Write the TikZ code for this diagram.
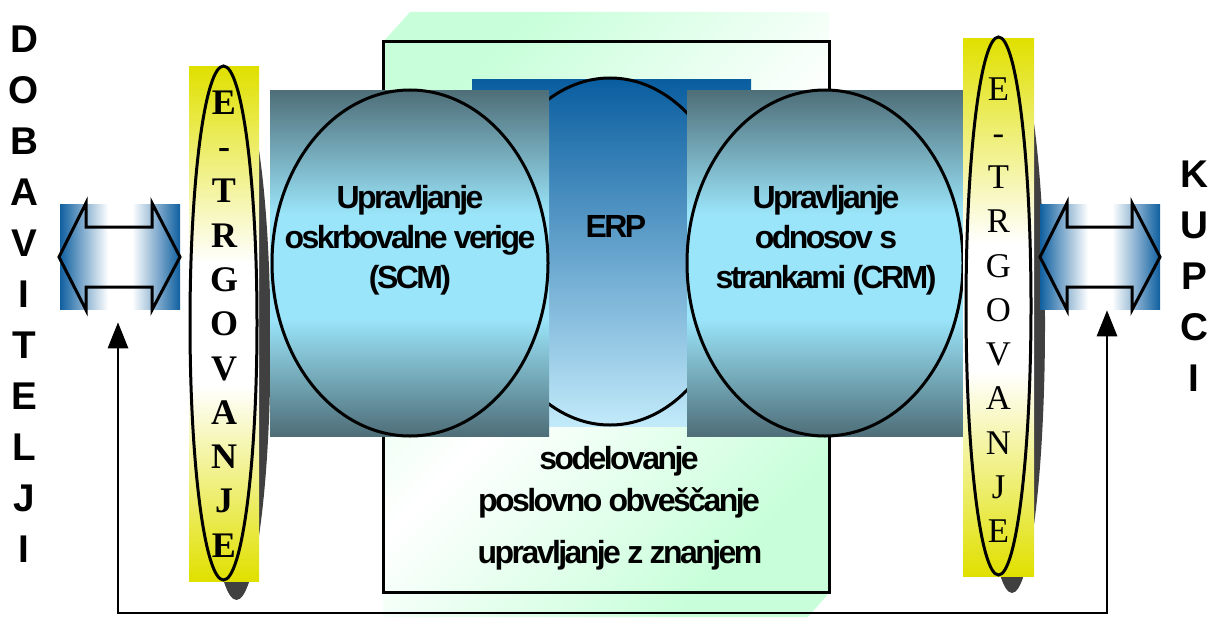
\documentclass[tikz,border=0pt]{standalone}
\usepackage{fontspec}
\setmainfont{Liberation Serif}
\newfontfamily\arialf{Liberation Sans}
\newfontfamily\tightf[LetterSpace=-8]{Liberation Sans}
\usetikzlibrary{arrows.meta}
\definecolor{mint}{RGB}{200,255,218}
\definecolor{slate}{RGB}{78,110,120}
\definecolor{cyanl}{RGB}{155,229,250}
\definecolor{erptop}{RGB}{10,94,160}
\definecolor{erpbot}{RGB}{194,234,250}
\definecolor{yel}{RGB}{224,224,0}
\definecolor{arrblue}{RGB}{16,96,160}
\definecolor{shad}{RGB}{64,64,64}
\pgfdeclareverticalshading{slateshade}{100bp}{color(0bp)=(slate); color(25bp)=(slate); color(42bp)=(cyanl); color(57bp)=(cyanl); color(75bp)=(slate); color(100bp)=(slate)}
\pgfdeclareverticalshading{yelshade}{100bp}{color(0bp)=(yel); color(25bp)=(yel); color(44bp)=(white); color(56bp)=(white); color(75bp)=(yel); color(100bp)=(yel)}
\pgfdeclarehorizontalshading{arrshade}{100bp}{color(0bp)=(arrblue); color(25bp)=(arrblue); color(45bp)=(white); color(55bp)=(white); color(75bp)=(arrblue); color(100bp)=(arrblue)}
\begin{document}
\begin{tikzpicture}[x=0.75pt,y=-0.75pt,
  outline/.style={draw=black,line width=2.25pt},
  arrbox/.style={minimum width=120*0.75pt,minimum height=105*0.75pt,inner sep=0pt,shading=arrshade},
  slatefill/.style={shading=slateshade},
  yelfill/.style={shading=yelshade},
  ctext/.style={font=\tightf\bfseries\fontsize{24}{30}\selectfont,inner sep=0pt,align=center},
  sidetext/.style={font=\arialf\bfseries\fontsize{29}{38.25}\selectfont,inner sep=0pt,align=center},
  ettext/.style={inner sep=0pt,align=center},
  fb/.style={line width=2.2pt,{Triangle[width=20*0.75pt,length=26*0.75pt]}-{Triangle[width=20*0.75pt,length=26*0.75pt]}}]
\useasboundingbox (0,0) rectangle (1209,617);
% background green box
\shade[top color=mint,bottom color=mint,middle color=white,shading angle=45]
  (383,42) -- (410,12) -- (829,12) -- (829,593) -- (808,617) -- (383,617) -- cycle;
\draw[outline] (383,42) rectangle (829,592);
% ERP
\shade[top color=erptop,bottom color=erpbot] (472,80) rectangle (751,426);
\draw[outline] (610,251.5) ellipse [x radius=128*0.75pt,y radius=173.5*0.75pt];
% shadows
\fill[shad] (236.5,343) ellipse [x radius=34*0.75pt,y radius=257*0.75pt];
\fill[shad] (1012,324) ellipse [x radius=33*0.75pt,y radius=269*0.75pt];
% SCM
\shade[slatefill] (270,90) rectangle (549,436);
\draw[outline] (410,263) ellipse [x radius=138*0.75pt,y radius=173*0.75pt];
% CRM
\shade[slatefill] (687,90) rectangle (965,436);
\draw[outline] (825,263) ellipse [x radius=138*0.75pt,y radius=173*0.75pt];
% e-trgovanje
\shade[yelfill] (189,67) rectangle (259,581);
\draw[outline] (223.5,323) ellipse [x radius=33.5*0.75pt,y radius=257*0.75pt];
\shade[yelfill] (963,39) rectangle (1034,576);
\draw[outline] (998.5,306) ellipse [x radius=32.5*0.75pt,y radius=269*0.75pt];
% double arrows
\node[arrbox] (larr) at (120,256.5) {};
\draw[outline,line join=miter] (59,257) -- (86,203) -- (86,227) -- (152,227) -- (152,203) -- (180,257)
  -- (152,310) -- (152,287) -- (86,287) -- (86,310) -- cycle;
\node[arrbox] (rarr) at (1100,256.5) {};
\draw[outline,line join=miter] (1040,257) -- (1067,203) -- (1067,227) -- (1132,227) -- (1132,203) -- (1160,257)
  -- (1132,310) -- (1132,287) -- (1067,287) -- (1067,310) -- cycle;
% texts
\node[sidetext] (dob) at (24,294) {D\\O\\B\\A\\V\\I\\T\\E\\L\\J\\I};
\node[sidetext] (kup) at (1194,276) {K\\U\\P\\C\\I};
\node[ettext,font=\bfseries\fontsize{27}{33.2}\selectfont] (etl) at (224,324) {E\\-\\T\\R\\G\\O\\V\\A\\N\\J\\E};
\node[ettext,font=\fontsize{26}{33.2}\selectfont] (etr) at (998.5,310) {E\\-\\T\\R\\G\\O\\V\\A\\N\\J\\E};
\node[ctext] (scm) at (410,240) {Upravljanje\\oskrbovalne verige\\(SCM)};
\node[ctext] (erp) at (616,226.5) {ERP};
\node[ctext] (crm) at (826,240) {Upravljanje\\odnosov s\\strankami (CRM)};
\node[ctext,anchor=base] (bot1) at (619,469) {sodelovanje};
\node[ctext,anchor=base] (bot2) at (619,511) {poslovno obveščanje};
\node[ctext,anchor=base] (bot3) at (620,563) {upravljanje z znanjem};
% feedback connector
\coordinate (ltip) at ([xshift=-1.5pt,yshift=-9.75pt]larr.south);
\coordinate (rtip) at ([xshift=5.25pt,yshift=-0.75pt]rarr.south);
\coordinate (fbase) at (0,613);
\draw[fb] (ltip) -- (ltip |- fbase) -- (rtip |- fbase) -- (rtip);
\end{tikzpicture}
\end{document}
